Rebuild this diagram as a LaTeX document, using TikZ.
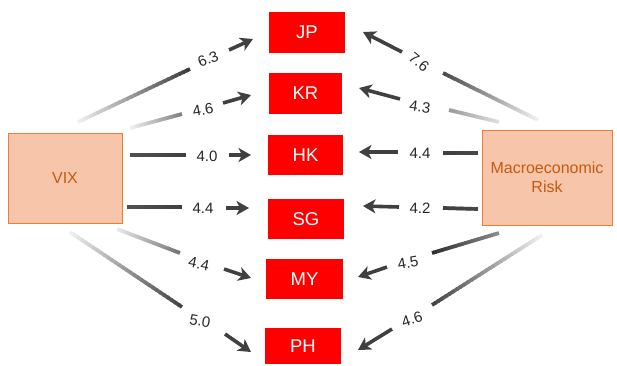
\documentclass[tikz,border=0pt]{standalone}
\usepackage{fontspec}
\setmainfont{Liberation Sans}
\usetikzlibrary{calc,arrows.meta}

\definecolor{peach}{RGB}{247,198,170}
\definecolor{peachline}{RGB}{237,125,49}
\definecolor{rusttext}{RGB}{197,90,17}
\definecolor{shaft}{RGB}{64,64,64}

\tikzset{
  country/.style={fill=red, draw=none, inner sep=0pt, text=white,
    font=\fontsize{18.5}{20}\selectfont},
  driver/.style={fill=peach, draw=peachline, line width=1pt, inner sep=0pt,
    text=rusttext, align=center, font=\fontsize{16}{19}\selectfont},
  coef/.style={inner sep=0pt, text=black!85, font=\fontsize{15}{17}\selectfont},
  headarrow/.style={draw=shaft, line width=3.6pt,
    -{Stealth[length=12.5pt,width=14pt,inset=3.5pt]}},
}

% shaded connector body: light near the source, darker towards the label
\newcommand\fadeline[4]{%
  \foreach \k in {0,...,29}{%
    \pgfmathsetmacro\pa{\k/30}%
    \pgfmathsetmacro\pb{min(1,(\k+1.4)/30)}%
    \pgfmathsetmacro\sh{#3+(#4-#3)*(\k+0.5)/30}%
    \draw[line width=3.7pt, draw=black!\sh] ($(#1)!\pa!(#2)$) -- ($(#1)!\pb!(#2)$);
  }%
}

\begin{document}
\begin{tikzpicture}[x=1pt,y=-1pt]
\useasboundingbox (0,0) rectangle (617,365);

% source boxes
\node[driver, minimum width=114pt, minimum height=90pt] (vix) at (65,178) {VIX};
\node[driver, minimum width=130pt, minimum height=95pt] (macro) at (547,177.5) {Macroeconomic\\Risk};

% markets
\node[country, minimum width=76pt, minimum height=41pt] (jp) at (307,32.5) {JP};
\node[country, minimum width=73pt, minimum height=41pt] (kr) at (305.5,93.5) {KR};
\node[country, minimum width=75pt, minimum height=40pt] (hk) at (305.5,155) {HK};
\node[country, minimum width=76pt, minimum height=40pt] (sg) at (306,219) {SG};
\node[country, minimum width=77pt, minimum height=40pt] (my) at (304.5,279) {MY};
\node[country, minimum width=76pt, minimum height=36pt] (ph) at (303,346) {PH};

% ---------- VIX -> markets ----------
\coordinate (v1a) at (78,122);  \coordinate (v1b) at (190,69);
\coordinate (v1c) at (229,50);  \coordinate (v1d) at (253,39);
\coordinate (v2a) at (130,128); \coordinate (v2b) at (182,114);
\coordinate (v2c) at (223,103); \coordinate (v2d) at (251,95);
\coordinate (v3a) at (130,155); \coordinate (v3b) at (186,155);
\coordinate (v3c) at (229,155); \coordinate (v3d) at (251,155);
\coordinate (v4a) at (127,207); \coordinate (v4b) at (182,207);
\coordinate (v4c) at (226,208); \coordinate (v4d) at (249,208);
\coordinate (v5a) at (117,229); \coordinate (v5b) at (180,253);
\coordinate (v5c) at (224,269); \coordinate (v5d) at (251,278);
\coordinate (v6a) at (70,232);  \coordinate (v6b) at (182,307);
\coordinate (v6c) at (225,334); \coordinate (v6d) at (251,352);

\fadeline{v1a}{v1b}{5}{78}
\fadeline{v2a}{v2b}{5}{50}
\fadeline{v3a}{v3b}{68}{75}
\fadeline{v4a}{v4b}{68}{75}
\fadeline{v5a}{v5b}{8}{55}
\fadeline{v6a}{v6b}{5}{75}

\draw[headarrow] (v1c) -- (v1d);
\draw[headarrow] (v2c) -- (v2d);
\draw[headarrow] (v3c) -- (v3d);
\draw[headarrow] (v4c) -- (v4d);
\draw[headarrow] (v5c) -- (v5d);
\draw[headarrow] (v6c) -- (v6d);

\node[coef, rotate=22]  (l1) at (208,59)  {6.3};
\node[coef, rotate=10]  (l2) at (203,110) {4.6};
\node[coef]             (l3) at (207,156) {4.0};
\node[coef]             (l4) at (203,208) {4.4};
\node[coef, rotate=-12] (l5) at (199,264) {4.4};
\node[coef, rotate=-10] (l6) at (200,321) {5.0};

% ---------- Macroeconomic Risk -> markets ----------
\coordinate (m1a) at (538,120); \coordinate (m1b) at (443,73);
\coordinate (m1c) at (402,52);  \coordinate (m1d) at (363,32);
\coordinate (m2a) at (499,122); \coordinate (m2b) at (449,110);
\coordinate (m2c) at (400,99);  \coordinate (m2d) at (359,88);
\coordinate (m3a) at (478,153); \coordinate (m3b) at (443,153);
\coordinate (m3c) at (398,152); \coordinate (m3d) at (359,152);
\coordinate (m4a) at (478,209); \coordinate (m4b) at (443,208);
\coordinate (m4c) at (399,207); \coordinate (m4d) at (363,206);
\coordinate (m5a) at (499,233); \coordinate (m5b) at (432,253);
\coordinate (m5c) at (387,267); \coordinate (m5d) at (358,277);
\coordinate (m6a) at (542,235); \coordinate (m6b) at (432,305);
\coordinate (m6c) at (392,329); \coordinate (m6d) at (358,350);

\fadeline{m1a}{m1b}{5}{72}
\fadeline{m2a}{m2b}{12}{40}
\fadeline{m3a}{m3b}{72}{75}
\fadeline{m4a}{m4b}{72}{75}
\fadeline{m5a}{m5b}{45}{82}
\fadeline{m6a}{m6b}{5}{75}

\draw[headarrow] (m1c) -- (m1d);
\draw[headarrow] (m2c) -- (m2d);
\draw[headarrow] (m3c) -- (m3d);
\draw[headarrow] (m4c) -- (m4d);
\draw[headarrow] (m5c) -- (m5d);
\draw[headarrow] (m6c) -- (m6d);

\node[coef, rotate=-40] (r1) at (419,62)  {7.6};
\node[coef, rotate=-8]  (r2) at (420,107) {4.3};
\node[coef]             (r3) at (420,153) {4.4};
\node[coef]             (r4) at (420,208) {4.2};
\node[coef, rotate=10]  (r5) at (408,263) {4.5};
\node[coef, rotate=18]  (r6) at (412,319) {4.6};
\end{tikzpicture}
\end{document}
